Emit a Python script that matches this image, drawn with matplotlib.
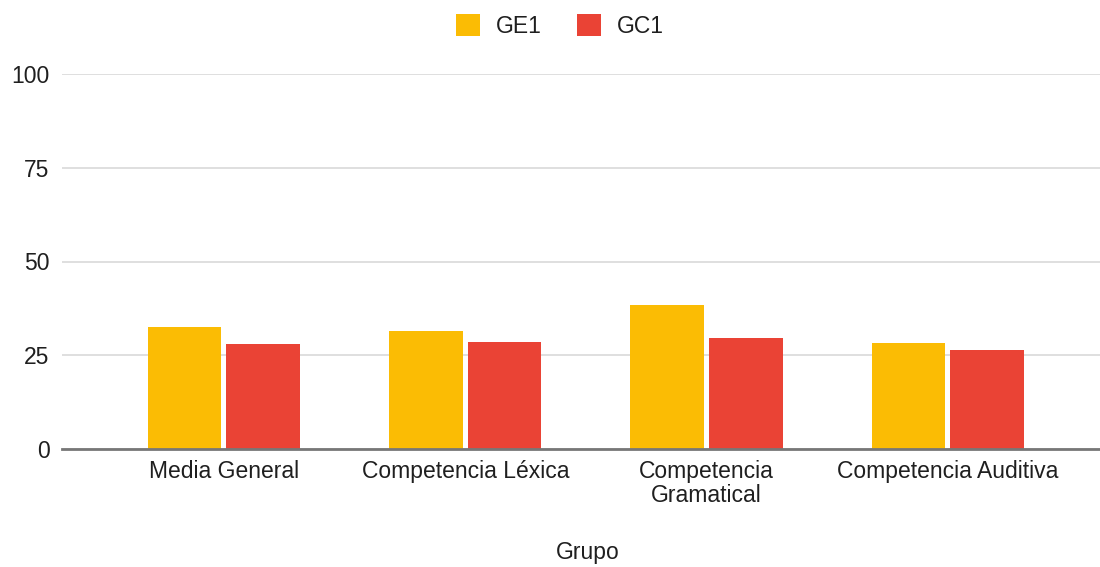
import matplotlib
matplotlib.use("Agg")
import matplotlib.pyplot as plt
from matplotlib.patches import Patch
import numpy as np

plt.rcParams['font.family'] = ['Liberation Sans', 'DejaVu Sans']

categories = ["Media General", "Competencia Léxica", "Competencia\nGramatical", "Competencia Auditiva"]
series_names = ["GE1", "GC1"]
ge1 = [32.5, 31.5, 38.4, 28.4]
gc1 = [28.0, 28.5, 29.5, 26.3]
yticks = [0, 25, 50, 75, 100]
colors = ["#FBBC04", "#EA4335"]
text_color = "#1f1f1f"
fs = 16.5

fig = plt.figure(figsize=(11, 5.67), dpi=100)
ax = fig.add_axes([62 / 1100, 1 - 449 / 567, 1 - 62 / 1100, (449 - 74) / 567])

x = np.arange(len(categories))
w = 0.305
off = 0.163
ax.bar(x - off, ge1, width=w, color=colors[0], zorder=3)
ax.bar(x + off, gc1, width=w, color=colors[1], zorder=3)

ax.set_xlim(-0.671, 3.63)
ax.set_ylim(0, 100)
ax.set_yticks(yticks)
ax.set_yticklabels([str(t) for t in yticks], fontsize=fs, color=text_color)
ax.set_xticks(x)
ax.set_xticklabels(categories, fontsize=fs, color=text_color, linespacing=1.05)
ax.tick_params(axis="both", length=0)
ax.tick_params(axis="y", pad=9)
ax.tick_params(axis="x", pad=8)

ax.grid(axis="y", color="#d9d9d9", linewidth=1.2, zorder=0)
for s in ["top", "right", "left"]:
    ax.spines[s].set_visible(False)
ax.spines["bottom"].set_color("#777777")
ax.spines["bottom"].set_linewidth(2)
ax.spines["bottom"].set_zorder(4)

fig.text(588 / 1100, 1 - 553 / 567, "Grupo", ha="center", va="center", fontsize=fs, color=text_color)

handles = [Patch(facecolor=c, edgecolor="none") for c in colors]
fig.legend(handles, series_names, loc="center", bbox_to_anchor=(560 / 1100, 1 - 26 / 567),
           ncol=2, frameon=False, fontsize=fs, handlelength=1.05, handleheight=1.05,
           handletextpad=0.7, columnspacing=1.5, labelcolor=text_color)

fig.savefig("out.png", dpi=100, facecolor="white")
